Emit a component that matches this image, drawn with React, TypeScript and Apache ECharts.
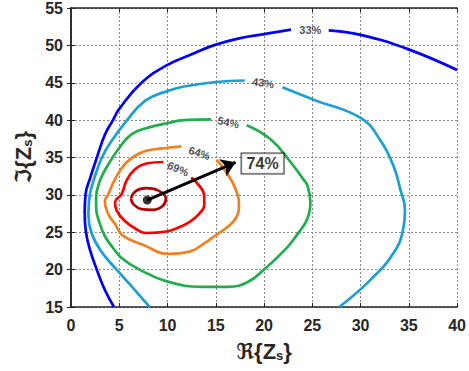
import React, { useEffect, useRef } from 'react';
import * as echarts from 'echarts';

type P = [number, number];

// 33% contour (two segments around the label gap)
const blueA: P[] = [
  [4.45, 15], [3.5, 17.3], [2.67, 20], [2.0, 22.5], [1.55, 25], [1.42, 27.5], [1.5, 30],
  [2.0, 32.3], [2.68, 35], [3.53, 38.1], [4.35, 40], [5.0, 41.5], [7.3, 45], [10, 47.4],
  [12.5, 48.8], [14.77, 50], [17.3, 50.9], [20, 51.5], [22.8, 52.1],
];
const blueB: P[] = [[26.7, 52.0], [30, 51.4], [34.9, 49.5], [40, 46.7]];

// 43% contour
const cyanA: P[] = [
  [8.15, 15], [6.6, 17.3], [4.73, 20], [3.1, 22.5], [2.1, 25], [1.8, 27.4], [1.95, 30],
  [2.34, 31.9], [3.2, 35], [4.2, 37.2], [5.75, 39.9], [7.7, 42.6], [10, 43.9], [11.7, 44.5],
  [15, 45.1], [18.0, 45.3],
];
const cyanB: P[] = [
  [21.9, 44.4], [25.2, 42.7], [30, 40.3], [32, 37.4], [33.4, 33.9], [34.1, 30.8], [34.6, 28],
  [34.4, 25.3], [33.4, 22.2], [31, 18.6], [27.8, 15],
];

// 54% contour
const green: P[] = [
  [14.5, 40.1], [11.7, 40.0], [10, 39.6], [8, 39.0], [6.26, 38.1], [4.9, 36.1], [3.87, 34.1],
  [3.0, 31.9], [2.6, 29.6], [2.6, 28.3], [3.0, 26.1], [3.5, 24.5], [4.3, 23], [5.2, 21.6],
  [7.1, 20], [10, 18.4], [13.6, 17.7], [16.3, 17.7], [18.4, 18.4], [19.9, 19.9], [21.5, 21.8],
  [23.1, 24.1], [24.7, 27.7], [24.8, 29.0], [24.5, 31.2], [24.0, 32.2], [22.8, 34.3],
  [20.7, 37.4], [18.2, 39.3],
];

// 64% contour
const orange: P[] = [
  [11.43, 36.5], [10, 36.3], [7.8, 35.9], [6.6, 35.2], [5.58, 34.1], [4.56, 32.1], [3.87, 30.1],
  [3.5, 29.1], [3.87, 27.4], [4.56, 26.1], [5.24, 24.7], [6.3, 23.9], [7.5, 23.3], [10, 22.1],
  [12.26, 22.4], [13.8, 23.5], [15, 24.6], [16, 25.5], [17.04, 26.8], [17.4, 28.6],
  [17.04, 30.8], [16.1, 33.0], [15.07, 34.7],
];

// 69% contour
const red: P[] = [
  [9.56, 34.4], [7.8, 34.2], [6.6, 33.4], [5.75, 31.9], [5.24, 30.1], [4.56, 29.0], [4.73, 27.9],
  [5.58, 26.5], [6.77, 25.4], [7.8, 24.9], [9.9, 25.1], [10.9, 25.5], [12.3, 26.4], [13.3, 27.5],
  [13.8, 28.6], [13.8, 29.9], [13.3, 31.2], [12.45, 32.3],
];

// innermost contour around the peak
const darkRed: P[] = [
  [6.2, 29.5], [6.7, 30.5], [7.8, 30.9], [9.0, 30.6], [9.83, 29.5], [9.5, 28.5], [8.5, 28.0],
  [7.3, 28.1], [6.5, 28.7], [6.2, 29.5],
];

const contourLabels = ['33%', '43%', '54%', '64%', '69%'];
const contourLabelPos: P[] = [[24.8, 52.1], [19.9, 45.0], [16.3, 39.7], [13.3, 35.6], [11.1, 33.5]];
const contourLabelAngle = [0, -8, -12, -18, -22];

const peak: P = [7.9, 29.3];
const arrowEnd: P = [17.05, 34.35];
const peakLabel = '74%';
const peakLabelPos: P = [19.85, 34.2];

const xMin = 0, xMax = 40, xStep = 5;
const yMin = 15, yMax = 55, yStep = 5;

const FONT = '"Liberation Sans", Arial, "DejaVu Sans", sans-serif';

export default function App() {
  const ref = useRef<HTMLDivElement>(null);
  useEffect(() => {
    if (!ref.current) return;
    const chart = echarts.init(ref.current, null, { renderer: 'svg' });
    const lineS = (data: P[], color: string) => ({
      type: 'line',
      data,
      smooth: 0.45,
      showSymbol: false,
      symbol: 'none',
      silent: true,
      lineStyle: { color, width: 2.7 },
      z: 3,
    });
    const axisLine = { show: true, lineStyle: { color: '#262626', width: 1.5 } };
    const tick = { show: true, inside: true, length: 4, lineStyle: { color: '#262626', width: 1 } };
    const labelStyle = { color: '#262626', fontSize: 16, fontWeight: 'bold', fontFamily: FONT };
    const split = { show: true, lineStyle: { color: '#8a8a8a', type: [2, 2], width: 1 } };
    const nameStyle = {
      color: '#262626', fontSize: 22, fontWeight: 'bold', fontFamily: FONT,
      rich: { s: { fontSize: 13, fontWeight: 'bold', fontFamily: FONT, color: '#262626', padding: [9, 0, 0, 0] } },
    };
    chart.setOption({
      animation: false,
      grid: { left: 71, right: 7, top: 8, bottom: 64, containLabel: false },
      xAxis: [
        {
          type: 'value', min: xMin, max: xMax, interval: xStep, position: 'bottom',
          name: 'ℜ{Z{s|s}}', nameLocation: 'middle', nameGap: 33, nameTextStyle: nameStyle,
          axisLine, axisTick: tick, axisLabel: { ...labelStyle, margin: 10 }, splitLine: split,
        },
        {
          type: 'value', min: xMin, max: xMax, interval: xStep, position: 'top',
          axisLine, axisTick: tick, axisLabel: { show: false }, splitLine: { show: false },
        },
      ],
      yAxis: [
        {
          type: 'value', min: yMin, max: yMax, interval: yStep, position: 'left',
          name: 'ℑ{Z{s|s}}', nameLocation: 'middle', nameGap: 36, nameTextStyle: nameStyle,
          axisLine, axisTick: tick, axisLabel: { ...labelStyle, margin: 8 }, splitLine: split,
        },
        {
          type: 'value', min: yMin, max: yMax, interval: yStep, position: 'right',
          axisLine, axisTick: tick, axisLabel: { show: false }, splitLine: { show: false },
        },
      ],
      series: [
        lineS(blueA, '#0000ff'),
        lineS(blueB, '#0000ff'),
        lineS(cyanA, '#1c9fd2'),
        lineS(cyanB, '#1c9fd2'),
        lineS(green, '#1fae4b'),
        lineS(orange, '#f08020'),
        lineS(red, '#ff0000'),
        lineS(darkRed, '#b40000'),
        {
          type: 'scatter',
          silent: true,
          symbolSize: 0,
          z: 5,
          data: contourLabels.map((t, i) => ({
            value: contourLabelPos[i],
            name: t,
            label: { rotate: contourLabelAngle[i] },
          })),
          label: {
            show: true, position: 'inside', formatter: '{b}',
            color: '#222', fontSize: 11, fontWeight: 'bold', fontFamily: FONT,
          },
        },
        {
          type: 'scatter',
          silent: true,
          symbol: 'circle',
          symbolSize: 9,
          itemStyle: { color: '#000' },
          z: 6,
          data: [peak],
          markLine: {
            silent: true,
            symbol: ['none', 'arrow'],
            symbolSize: 14,
            label: { show: false },
            lineStyle: { color: '#000', width: 3, type: 'solid' },
            data: [[{ coord: peak }, { coord: arrowEnd }]],
          },
        },
        {
          type: 'scatter',
          silent: true,
          symbolSize: 0,
          z: 7,
          data: [{ value: peakLabelPos, name: peakLabel }],
          label: {
            show: true, position: 'inside', formatter: '{b}',
            color: '#000', fontSize: 16, fontWeight: 'bold', fontFamily: FONT,
            backgroundColor: '#fff', borderColor: '#000', borderWidth: 1, padding: [2, 5],
          },
        },
      ],
    });
    return () => chart.dispose();
  }, []);
  return <div ref={ref} style={{ width: 469, height: 371, position: 'absolute', left: 0, top: 0, background: '#fff' }} />;
}
